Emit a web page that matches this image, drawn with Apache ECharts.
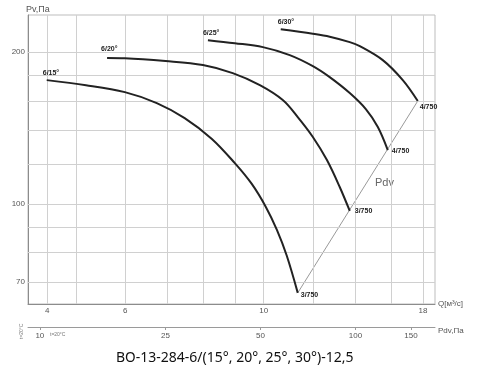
<!DOCTYPE html>
<html><head><meta charset="utf-8">
<script src="https://cdn.jsdelivr.net/npm/echarts@6/dist/echarts.min.js"></script>
<style>html,body{margin:0;padding:0;background:#fff}#c{width:500px;height:367px}</style>
</head><body><div id="c"></div>
<script>
const curveNames = ['6/15°', '6/20°', '6/25°', '6/30°'];
const endNames = ['3/750', '3/750', '4/750', '4/750'];
const q15 = [4.49, 5.19, 5.99, 6.74, 7.47, 8.26, 8.99, 9.57, 10.08, 10.50, 10.89, 11.34];
const p15 = [175.9, 171.9, 166.5, 158.4, 147.9, 134.5, 120.4, 109.5, 98.6, 88.8, 78.9, 66.6];
const q20 = [5.61, 5.99, 6.96, 7.99, 8.92, 9.86, 10.73, 11.34, 11.99, 12.63, 13.24, 13.74];
const p20 = [194.5, 194.3, 191.9, 188.4, 181.6, 171.9, 160.6, 148.6, 135.7, 122.1, 108.0, 96.8];
const q25 = [8.14, 8.99, 9.97, 11.01, 11.99, 12.76, 13.74, 14.58, 15.24, 15.81];
const p25 = [211.1, 208.2, 204.5, 197.2, 187.5, 178.3, 165.8, 154.1, 142.0, 127.8];
const q30 = [10.65, 11.99, 12.76, 13.74, 14.26, 15.52, 16.71, 17.66];
const p30 = [221.9, 217.4, 214.5, 209.2, 205.4, 192.7, 175.9, 159.9];
const pdvQ = [11.34, 17.66];
const pdvP = [66.6, 159.9];
const qGrid = [4.5, 5, 6, 7, 8, 9, 10, 12, 14, 16, 18];
const pGrid = [70, 80, 90, 100, 120, 140, 160, 180, 200];
const qTicks = [4.5, 6, 10, 18];
const qTickLabels = ['4', '6', '10', '18'];
const pTicks = [70, 100, 200];
const pdvTicks = [10, 25, 50, 100, 150];
const title = 'ВО-13-284-6/(15°, 20°, 25°, 30°)-12,5';

const qs = [q15, q20, q25, q30];
const ps = [p15, p20, p25, p30];
const startPos = [[-3, -10], [-5, -12], [-4, -10], [-2, -10]];
const endPos = [[4, 0], [6, -2], [5, -2], [3, 4]];

const chart = echarts.init(document.getElementById('c'), null, {renderer: 'canvas'});
const FONT = 'Liberation Sans';
const lbl = {fontSize: 7, fontWeight: 'bold', color: '#222', fontFamily: FONT, align: 'left', verticalAlign: 'top'};

const curveSeries = qs.map((q, k) => ({
  type: 'line', xAxisIndex: 0, yAxisIndex: 0, z: 5,
  smooth: 0.35, symbol: 'circle', symbolSize: 2, showSymbol: true, showAllSymbol: true,
  itemStyle: {color: 'rgba(0,0,0,0)', borderWidth: 0},
  lineStyle: {color: '#222', width: 2},
  label: {show: false},
  data: q.map((v, i) => {
    const d = {value: [v, ps[k][i]]};
    if (i === 0) d.label = Object.assign({show: true, position: startPos[k], formatter: curveNames[k]}, lbl);
    if (i === q.length - 1) d.label = Object.assign({show: true, position: endPos[k], formatter: endNames[k]}, lbl);
    return d;
  }),
  labelLayout: {hideOverlap: false}
}));

const option = {
  animation: false,
  backgroundColor: '#fff',
  title: {text: title, left: 111, top: 346, textStyle: {fontSize: 14, fontWeight: 'normal', color: '#111', fontFamily: 'Noto Sans'}},
  grid: [
    {left: 28, right: 65, top: 15, bottom: 63, show: true, borderColor: '#bdbdbd', borderWidth: 1},
    {left: 28, right: 65, top: 326, height: 1}
  ],
  xAxis: [
    {type: 'log', gridIndex: 0, min: 4.19, max: 18.82,
     name: 'Q[м³/с]', nameLocation: 'end', nameGap: 3,
     nameTextStyle: {fontSize: 8, color: '#555', fontFamily: FONT, verticalAlign: 'middle'},
     axisLine: {show: true, lineStyle: {color: '#8c8c8c', width: 1}},
     axisTick: {show: false}, splitLine: {show: false}, minorSplitLine: {show: false},
     axisLabel: {customValues: qTicks, fontSize: 8, color: '#555', margin: 3, fontFamily: FONT,
       formatter: v => { const i = qTicks.findIndex(t => Math.abs(t - v) < 1e-6); return i >= 0 ? qTickLabels[i] : ''; }}},
    {type: 'log', gridIndex: 1, min: 9.17, max: 178.7,
     name: 'Pdv,Па', nameLocation: 'end', nameGap: 3,
     nameTextStyle: {fontSize: 8, color: '#555', fontFamily: FONT, verticalAlign: 'top'},
     axisLine: {show: true, lineStyle: {color: '#9a9a9a', width: 1}},
     axisTick: {show: true, customValues: pdvTicks, length: 3, lineStyle: {color: '#9a9a9a'}},
     splitLine: {show: false},
     axisLabel: {customValues: pdvTicks, fontSize: 8, color: '#555', margin: 5, fontFamily: FONT}}
  ],
  yAxis: [
    {type: 'log', gridIndex: 0, min: 63.3, max: 236.8,
     name: 'Pv,Па', nameLocation: 'end', nameGap: 1,
     nameTextStyle: {fontSize: 9, color: '#555', fontFamily: FONT, align: 'left', verticalAlign: 'bottom', padding: [0, 0, 0, -2]},
     axisLine: {show: true, lineStyle: {color: '#8c8c8c', width: 1}},
     axisTick: {show: false}, splitLine: {show: false},
     axisLabel: {customValues: pTicks, fontSize: 8, color: '#555', margin: 3, fontFamily: FONT}},
    {type: 'value', gridIndex: 1, show: false, min: 0, max: 1}
  ],
  series: [
    {type: 'line', xAxisIndex: 0, yAxisIndex: 0, z: 1, symbol: 'none', silent: true, data: [],
     markLine: {silent: true, symbol: 'none', animation: false, label: {show: false},
       lineStyle: {color: '#d0d0d0', width: 1, type: 'solid'},
       data: qGrid.map(v => ({xAxis: v})).concat(pGrid.map(v => ({yAxis: v})))}},
    {type: 'line', xAxisIndex: 0, yAxisIndex: 0, z: 3, symbol: 'none', silent: true,
     lineStyle: {color: '#9a9a9a', width: 1},
     data: pdvQ.map((v, i) => [v, pdvP[i]])},
    ...curveSeries,
    {type: 'line', xAxisIndex: 1, yAxisIndex: 1, data: [], symbol: 'none'}
  ],
  graphic: [
    {type: 'text', left: 375, top: 177, style: {text: 'Pdv', fontSize: 11, fill: '#666', fontFamily: FONT}},
    {type: 'text', left: 50, top: 332, style: {text: 't=20°C', fontSize: 5, fill: '#777', fontFamily: FONT}},
    {type: 'text', x: 19, y: 339, rotation: Math.PI / 2, style: {text: 't=20°C', fontSize: 5, fill: '#777', fontFamily: FONT}}
  ]
};
chart.setOption(option);
</script></body></html>
